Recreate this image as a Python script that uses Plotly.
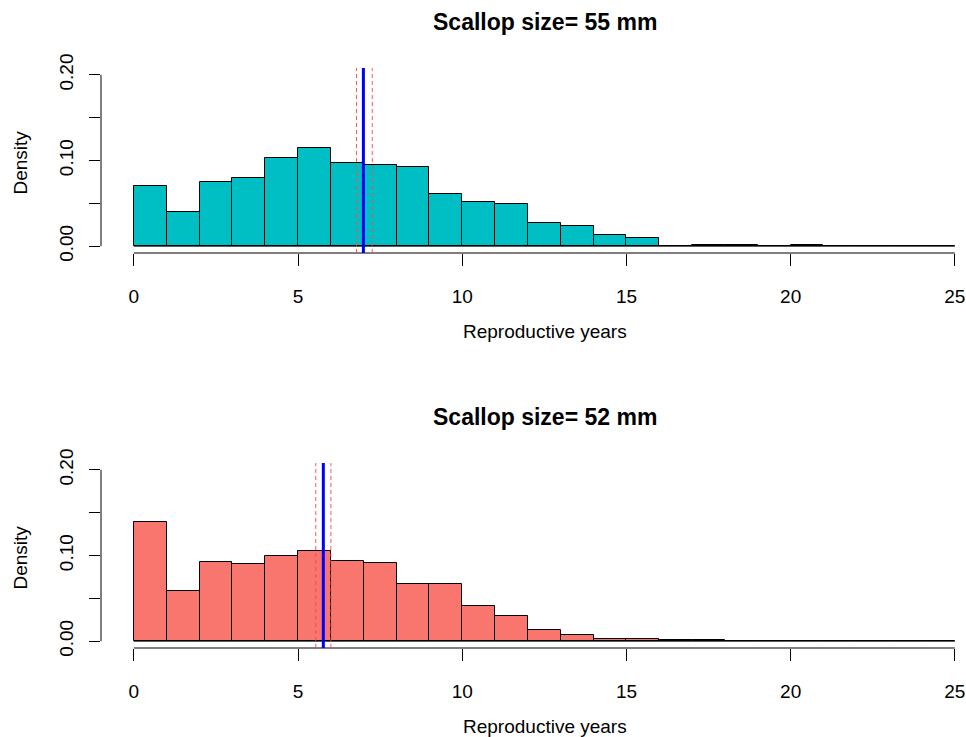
import plotly.graph_objects as go

bin_left = list(range(0, 25))
density_55 = [0.070, 0.040, 0.075, 0.079, 0.103, 0.115, 0.097, 0.095, 0.093, 0.061,
              0.052, 0.049, 0.027, 0.023, 0.013, 0.010, 0.0, 0.001, 0.001, 0.0,
              0.001, 0.0, 0.0, 0.0, 0.0]
density_52 = [0.139, 0.058, 0.092, 0.090, 0.099, 0.105, 0.094, 0.091, 0.067, 0.067,
              0.041, 0.029, 0.013, 0.007, 0.003, 0.0022, 0.001, 0.001, 0.0, 0.0,
              0.0, 0.0, 0.0, 0.0, 0.0]
mean_55, ci_55 = 6.99, (6.78, 7.26)
mean_52, ci_52 = 5.77, (5.54, 6.00)
titles = ["Scallop size= 55 mm", "Scallop size= 52 mm"]
colors = ["#00BFC4", "#F8766D"]
x_ticks = [0, 5, 10, 15, 20, 25]
y_ticks = [0, 0.05, 0.10, 0.15, 0.20]
y_ticktext = ["0.00", "", "0.10", "", "0.20"]

W, H = 966, 737
FONT = "Liberation Sans, Arial, sans-serif"
FS = 19

fig = go.Figure()

x_dom = [101 / W, 1.0]
regions = [(68, 253), (463, 648)]
ydoms = [[1 - b / H, 1 - t / H] for (t, b) in regions]

series = [(density_55, mean_55, ci_55), (density_52, mean_52, ci_52)]
for i, (dens, m, ci) in enumerate(series):
    xa = "x" if i == 0 else "x2"
    ya = "y" if i == 0 else "y2"
    fig.add_trace(go.Bar(
        x=[b + 0.5 for b in bin_left], y=dens, width=1,
        marker=dict(color=colors[i], line=dict(color="black", width=1)),
        xaxis=xa, yaxis=ya, showlegend=False, hoverinfo="skip"))
    fig.add_shape(type="line", xref=xa, yref=ya, x0=0, x1=25, y0=0, y1=0,
                  line=dict(color="black", width=1), layer="below")
    fig.add_shape(type="line", xref=xa, yref=ya + " domain", x0=0, x1=25, y0=0, y1=0,
                  line=dict(color="black", width=1))
    fig.add_shape(type="line", xref=xa + " domain", yref=ya, x0=0, x1=0, y0=0, y1=0.2,
                  line=dict(color="black", width=1))
    for c in ci:
        fig.add_shape(type="line", xref=xa, yref=ya + " domain", x0=c, x1=c, y0=0, y1=1,
                      line=dict(color="rgba(255,70,70,0.9)", width=1, dash="4px,3px"))
    fig.add_shape(type="line", xref=xa, yref=ya + " domain", x0=m, x1=m, y0=0, y1=1,
                  line=dict(color="blue", width=3))

    xkey = "xaxis" if i == 0 else "xaxis2"
    ykey = "yaxis" if i == 0 else "yaxis2"
    fig.layout[xkey] = dict(domain=x_dom, range=[-1, -1 + (W - 101) / 32.84],
                            anchor=ya, showgrid=False, zeroline=False, showline=False,
                            automargin=False,
                            tickvals=x_ticks, ticks="outside", ticklen=12, tickwidth=1,
                            tickcolor="black", ticklabelstandoff=14,
                            tickfont=dict(family=FONT, size=FS, color="black"))
    fig.layout[ykey] = dict(domain=ydoms[i], range=[-0.008, 0.208], anchor=xa,
                            showgrid=False, zeroline=False, showline=False,
                            automargin=False,
                            tickvals=y_ticks, ticktext=y_ticktext, ticks="outside",
                            ticklen=11, tickwidth=1, tickcolor="black", tickangle=-90,
                            ticklabelstandoff=8,
                            tickfont=dict(family=FONT, size=FS, color="black"))

    t, b = regions[i]
    fig.add_annotation(text="<b>" + titles[i] + "</b>", xref="paper", yref="paper",
                       x=545 / W, y=1 - (t - 46) / H, showarrow=False,
                       xanchor="center", yanchor="middle",
                       font=dict(family=FONT, size=23, color="black"))
    fig.add_annotation(text="Reproductive years", xref="paper", yref="paper",
                       x=545 / W, y=1 - (b + 78) / H, showarrow=False,
                       xanchor="center", yanchor="middle",
                       font=dict(family=FONT, size=FS, color="black"))
    fig.add_annotation(text="Density", xref="paper", yref="paper",
                       x=20 / W, y=1 - ((t + b) / 2 + 2) / H, showarrow=False,
                       textangle=-90, xanchor="center", yanchor="middle",
                       font=dict(family=FONT, size=FS, color="black"))

fig.update_layout(width=W, height=H,
                  margin=dict(l=0, r=0, t=0, b=0, pad=0, autoexpand=False),
                  plot_bgcolor="white", paper_bgcolor="white", bargap=0)
fig.write_html("out.html", config={"displayModeBar": False},
               post_script="document.body.style.margin='0';document.body.style.overflow='hidden';")
